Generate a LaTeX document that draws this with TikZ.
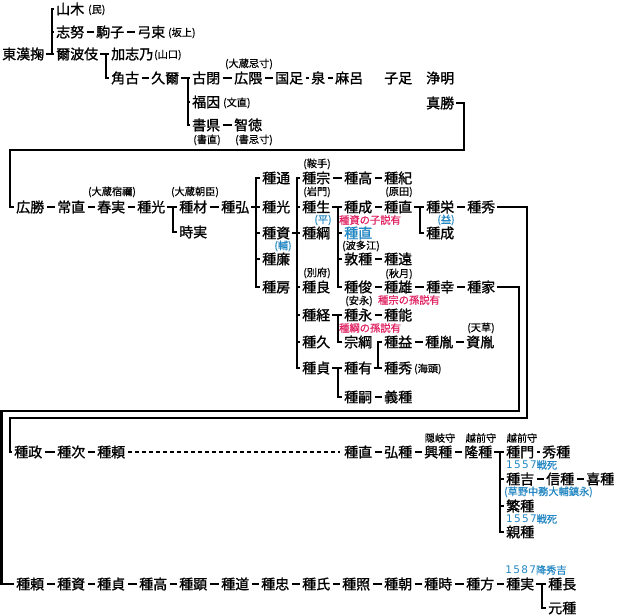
\documentclass[tikz,border=0pt]{standalone}
\usepackage{fontspec}
\setmainfont{Noto Sans CJK JP}
\newfontfamily\nmfont{Noto Sans CJK JP}[FakeBold=1.2]
\newfontfamily\anfont{Noto Sans CJK JP}[FakeBold=0.6]
\newfontfamily\dgfont{DejaVu Sans}[LetterSpace=12]
\definecolor{nblue}{RGB}{35,135,195}
\definecolor{nred}{RGB}{225,35,100}
\tikzset{
 nm/.style={anchor=west, inner sep=0pt, font=\nmfont\fontsize{14}{14}\selectfont, text height=12.3pt, text depth=1.7pt},
 an/.style={inner sep=0pt, font=\anfont\fontsize{10.2}{10.2}\selectfont},
 anw/.style={an, anchor=west},
 bl/.style={inner sep=0pt, text=nblue, font=\anfont\fontsize{10.2}{10.2}\selectfont},
 rd/.style={inner sep=0pt, text=nred, font=\anfont\fontsize{10.3}{10.3}\selectfont},
 dsh/.style={line width=2.5pt, shorten <=2.5pt, shorten >=2.5pt},
 br/.style={line width=2.5pt, line cap=rect, line join=miter},
 dots/.style={line width=2pt, dash pattern=on 4pt off 3pt, shorten <=3pt, shorten >=4pt},
}
\newcommand\mybar[3]{\draw[br] (#2.west -| #1) -- (#3.west -| #1);}
\newcommand\mytick[2]{\draw[br] (#2.west -| #1) -- ([xshift=-3pt]#2.west);}
\newcommand\myfrom[2]{\draw[br] ([xshift=3pt]#2.east) -- (#2.east -| #1);}
\newcommand\mydash[2]{\draw[dsh] (#1.east) -- (#2.west);}
\newcommand\dg[1]{{\dgfont\fontsize{10.5}{10.5}\selectfont #1}}
\begin{document}
\begin{tikzpicture}[x=1pt,y=-1pt]
\useasboundingbox[fill=white] (0,0) rectangle (622,616);
% ---------- top section ----------
\node[nm] (t0) at (2,54) {東漢掬};
\node[nm] (t1) at (56,9) {山木};
\node[anw] at (88,10) {(民)};
\node[nm] (t2) at (56,32) {志努};
\node[nm] (t3) at (96,32) {駒子};
\node[nm] (t4) at (137,32) {弓束};
\node[anw] at (168,33) {(坂上)};
\node[nm] (t5) at (56,54) {爾波伎};
\node[nm] (t6) at (111,54) {加志乃};
\node[anw] at (154,55) {(山口)};
\node[nm] (t7) at (111,78) {角古};
\node[nm] (t8) at (151,78) {久爾};
\node[nm] (t9) at (192,78) {古閉};
\node[nm] (t10) at (234,78) {広隈};
\node[an] at (249,64) {(大蔵忌寸)};
\node[nm] (t11) at (275,78) {国足};
\node[nm] (t12) at (311,78) {泉};
\node[nm] (t13) at (335,78) {麻呂};
\node[nm] (t14) at (384,78) {子足};
\node[nm] (t15) at (426,78) {浄明};
\node[nm] (t16) at (192,102) {福因};
\node[anw] at (223,103) {(文直)};
\node[nm] (t17) at (192,125) {書県};
\node[nm] (t18) at (234,125) {智徳};
\node[an] at (207,140) {(書直)};
\node[an] at (254,140) {(書忌寸)};
\node[nm] (t19) at (426,103) {真勝};
\coordinate (bA) at (52,0);
\coordinate (bB) at (106,0);
\coordinate (bC) at (188,0);
\myfrom{bA}{t0}
\mybar{bA}{t1}{t5}
\mytick{bA}{t1}\mytick{bA}{t2}\mytick{bA}{t5}
\myfrom{bB}{t5}
\mybar{bB}{t6}{t7}
\mytick{bB}{t6}\mytick{bB}{t7}
\myfrom{bC}{t8}
\mybar{bC}{t9}{t17}
\mytick{bC}{t9}\mytick{bC}{t16}\mytick{bC}{t17}
\mydash{t2}{t3}\mydash{t3}{t4}\mydash{t7}{t8}
\mydash{t9}{t10}\mydash{t10}{t11}\mydash{t11}{t12}\mydash{t12}{t13}
\mydash{t17}{t18}
% ---------- second section ----------
\node[nm] (r1) at (16,207) {広勝};
\node[nm] (r2) at (57,207) {常直};
\node[nm] (r3) at (97,207) {春実};
\node[an] at (112,192) {(大蔵宿禰)};
\node[nm] (r4) at (137,207) {種光};
\node[nm] (r5) at (179,207) {種材};
\node[an] at (195,192) {(大蔵朝臣)};
\node[nm] (r6) at (221,207) {種弘};
\node[nm] (r7) at (179,232) {時実};
\coordinate (bD) at (173,0);
\mydash{r1}{r2}\mydash{r2}{r3}\mydash{r3}{r4}\mydash{r5}{r6}
\myfrom{bD}{r4}
\mybar{bD}{r5}{r7}
\mytick{bD}{r5}\mytick{bD}{r7}
\node[nm] (s1) at (262,178) {種通};
\node[nm] (s2) at (262,207) {種光};
\node[nm] (s3) at (262,233) {種資};
\node[bl] at (283,246) {(輔)};
\node[nm] (s4) at (262,259) {種廉};
\node[nm] (s5) at (262,287) {種房};
\coordinate (bE) at (256,0);
\myfrom{bE}{r6}
\mybar{bE}{s1}{s5}
\mytick{bE}{s1}\mytick{bE}{s2}\mytick{bE}{s3}\mytick{bE}{s4}\mytick{bE}{s5}
\node[nm] (u1) at (302,178) {種宗};
\node[an] at (317,164) {(鞍手)};
\node[nm] (u2) at (302,207) {種生};
\node[an] at (317,192) {(岩門)};
\node[bl] at (323,220) {(平)};
\node[nm] (u3) at (302,233) {種綱};
\node[nm] (u4) at (302,287) {種良};
\node[an] at (317,273) {(別府)};
\node[nm] (u5) at (302,315) {種経};
\node[nm] (u6) at (302,342) {種久};
\node[nm] (u7) at (302,368) {種貞};
\coordinate (bF) at (297,0);
\myfrom{bF}{s3}
\mybar{bF}{u1}{u7}
\mytick{bF}{u1}\mytick{bF}{u2}\mytick{bF}{u3}\mytick{bF}{u4}\mytick{bF}{u5}\mytick{bF}{u6}\mytick{bF}{u7}
\node[nm] (v1) at (344,178) {種高};
\node[nm] (v2) at (384,178) {種紀};
\mydash{u1}{v1}\mydash{v1}{v2}
\node[nm] (w1) at (344,207) {種成};
\node[rd] at (370,220) {種資の子説有};
\node[nm] (w2) at (384,207) {種直};
\node[an] at (399,192) {(原田)};
\node[nm, text=nblue] (w3) at (344,233) {種直};
\node[nm] (w4) at (344,259) {敦種};
\node[an] at (361,246) {(波多江)};
\node[nm] (w5) at (384,259) {種遠};
\node[nm] (w6) at (344,287) {種俊};
\node[nm] (w7) at (384,287) {種雄};
\node[an] at (399,274) {(秋月)};
\node[nm] (w8) at (426,287) {種幸};
\node[nm] (w9) at (467,287) {種家};
\node[rd] at (409,300) {種宗の孫説有};
\coordinate (bG) at (338,0);
\myfrom{bG}{u2}
\mybar{bG}{w1}{w6}
\mytick{bG}{w1}\mytick{bG}{w3}\mytick{bG}{w4}\mytick{bG}{w6}
\mydash{w1}{w2}\mydash{w4}{w5}\mydash{w6}{w7}\mydash{w7}{w8}\mydash{w8}{w9}
\node[nm] (x1) at (426,207) {種栄};
\node[bl] at (446,220) {(益)};
\node[nm] (x2) at (467,207) {種秀};
\node[nm] (x3) at (426,233) {種成};
\coordinate (bH) at (420,0);
\myfrom{bH}{w2}
\mybar{bH}{x1}{x3}
\mytick{bH}{x1}\mytick{bH}{x3}
\mydash{x1}{x2}
\node[nm] (y1) at (344,315) {種永};
\node[an] at (359,301) {(安永)};
\node[nm] (y2) at (384,315) {種能};
\node[rd] at (370,328) {種綱の孫説有};
\node[nm] (y3) at (344,342) {宗綱};
\coordinate (bI) at (338,0);
\myfrom{bI}{u5}
\mybar{bI}{y1}{y3}
\mytick{bI}{y1}\mytick{bI}{y3}
\mydash{y1}{y2}
\node[nm] (z1) at (344,368) {種有};
\node[nm] (z2) at (344,397) {種嗣};
\node[nm] (z3) at (384,397) {義種};
\coordinate (bJ) at (338,0);
\myfrom{bJ}{u7}
\mybar{bJ}{z1}{z2}
\mytick{bJ}{z1}\mytick{bJ}{z2}
\mydash{z2}{z3}
\node[nm] (q1) at (384,342) {種益};
\node[nm] (q2) at (425,342) {種胤};
\node[nm] (q3) at (466,342) {資胤};
\node[an] at (481,328) {(天草)};
\node[nm] (q4) at (384,368) {種秀};
\node[anw] at (414,369) {(海頭)};
\coordinate (bK) at (378,0);
\myfrom{bK}{z1}
\mybar{bK}{q1}{q4}
\mytick{bK}{q1}\mytick{bK}{q4}
\mydash{q1}{q2}\mydash{q2}{q3}
% frame from 真勝
\coordinate (fA) at (464,150);
\coordinate (fB) at (10,150);
\draw[br] ([xshift=3pt]t19.east) -| (fA) -- (fB) |- ([xshift=-3pt]r1.west);
% ---------- third section ----------
\node[nm] (h1) at (14,452) {種政};
\node[nm] (h2) at (57,452) {種次};
\node[nm] (h3) at (97,452) {種頼};
\node[nm] (h4) at (344,452) {種直};
\node[nm] (h5) at (384,452) {弘種};
\node[nm] (h6) at (424,452) {興種};
\node[an] at (440,438) {隠岐守};
\node[nm] (h7) at (464,452) {隆種};
\node[an] at (481,438) {越前守};
\mydash{h1}{h2}\mydash{h2}{h3}
\draw[dots] (h3.east) -- (h4.west);
\mydash{h4}{h5}\mydash{h5}{h6}\mydash{h6}{h7}
\node[nm] (k1) at (506,452) {種門};
\node[an] at (522,438) {越前守};
\node[nm] (k2) at (542,452) {秀種};
\node[bl, anchor=west] at (506,465) {\dg{1557}戦死};
\node[nm] (k3) at (506,479) {種吉};
\node[nm] (k4) at (546,479) {信種};
\node[nm] (k5) at (586,479) {喜種};
\node[bl, anchor=west] at (504,492) {(草野中務大輔鎮永)};
\node[nm] (k6) at (506,506) {繁種};
\node[bl, anchor=west] at (506,519) {\dg{1557}戦死};
\node[nm] (k7) at (506,532) {親種};
\coordinate (bL) at (500,0);
\myfrom{bL}{h7}
\mybar{bL}{k1}{k7}
\mytick{bL}{k1}\mytick{bL}{k3}\mytick{bL}{k6}\mytick{bL}{k7}
\mydash{k1}{k2}\mydash{k3}{k4}\mydash{k4}{k5}
\coordinate (fC) at (527,418);
\coordinate (fD) at (10,418);
\draw[br] ([xshift=3pt]x2.east) -| (fC) -- (fD) |- ([xshift=-3pt]h1.west);
% ---------- bottom section ----------
\node[nm] (m1) at (16,584) {種頼};
\node[nm] (m2) at (57,584) {種資};
\node[nm] (m3) at (97,584) {種貞};
\node[nm] (m4) at (139,584) {種高};
\node[nm] (m5) at (179,584) {種顕};
\node[nm] (m6) at (221,584) {種道};
\node[nm] (m7) at (261,584) {種忠};
\node[nm] (m8) at (302,584) {種氏};
\node[nm] (m9) at (342,584) {種照};
\node[nm] (m10) at (384,584) {種朝};
\node[nm] (m11) at (424,584) {種時};
\node[nm] (m12) at (466,584) {種方};
\node[nm] (m13) at (506,584) {種実};
\node[nm] (n1) at (548,584) {種長};
\node[nm] (n2) at (548,608) {元種};
\node[bl] at (536,570) {\dg{1587}降秀吉};
\mydash{m1}{m2}\mydash{m2}{m3}\mydash{m3}{m4}\mydash{m4}{m5}\mydash{m5}{m6}
\mydash{m6}{m7}\mydash{m7}{m8}\mydash{m8}{m9}\mydash{m9}{m10}\mydash{m10}{m11}
\mydash{m11}{m12}\mydash{m12}{m13}
\coordinate (bM) at (542,0);
\myfrom{bM}{m13}
\mybar{bM}{n1}{n2}
\mytick{bM}{n1}\mytick{bM}{n2}
\coordinate (fE) at (519,411);
\coordinate (fF) at (1.5,411);
\draw[br] ([xshift=3pt]w9.east) -| (fE) -- (fF) |- ([xshift=-3pt]m1.west);
\end{tikzpicture}
\end{document}
